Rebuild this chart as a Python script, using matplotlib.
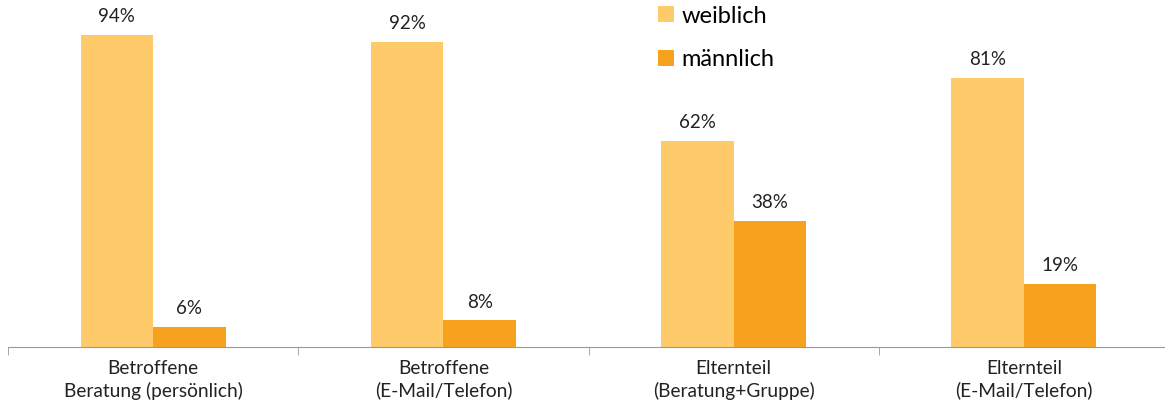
import matplotlib
matplotlib.use("Agg")
import matplotlib.pyplot as plt
import numpy as np

categories = ["Betroffene\nBeratung (persönlich)", "Betroffene\n(E-Mail/Telefon)",
              "Elternteil\n(Beratung+Gruppe)", "Elternteil\n(E-Mail/Telefon)"]
series_names = ["weiblich", "männlich"]
weiblich = [94, 92, 62, 81]
maennlich = [6, 8, 38, 19]

colors = ["#FFCA69", "#F6A21E"]
plt.rcParams['font.family'] = ['Lato', 'DejaVu Sans']

fig = plt.figure(figsize=(11.65, 4.12), dpi=100)
ax = fig.add_axes([8/1165, 65/412, 1161/1165, 347/412])

x = np.arange(len(categories))
w = 0.25
for i, (vals, name) in enumerate(zip([weiblich, maennlich], series_names)):
    bars = ax.bar(x + (i - 0.5) * w, vals, width=w, color=colors[i], label=name)
    for b, v in zip(bars, vals):
        ax.annotate(f"{v}%", (b.get_x() + b.get_width()/2, v), xytext=(0, 7),
                    textcoords="offset points", ha="center", va="bottom",
                    fontsize=13.5, color="#222222")

ax.set_xlim(-0.5, len(categories) - 0.5)
ax.set_ylim(0, 104.5)
for s in ["top", "right", "left"]:
    ax.spines[s].set_visible(False)
ax.spines["bottom"].set_color("#999999")
ax.set_yticks([])
ax.set_xticks(x)
ax.set_xticklabels(categories, fontsize=13.8, color="#222222", linespacing=1.35)
ax.tick_params(axis="x", which="major", length=0, pad=9)
ax.set_xticks(np.arange(-0.5, len(categories), 1), minor=True)
ax.tick_params(axis="x", which="minor", length=6, color="#999999", direction="out")

leg = ax.legend(loc="upper left", bbox_to_anchor=(629/1161, 1.045), frameon=False,
                fontsize=17, handlelength=0.68, handleheight=0.68, handletextpad=0.3,
                labelspacing=0.95, borderpad=0.4)
fig.savefig("out.png", dpi=100)
